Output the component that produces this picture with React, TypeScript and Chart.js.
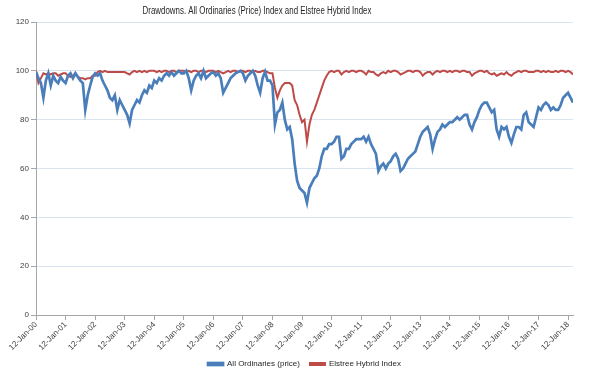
import React, { useEffect, useRef } from "react";
import { Chart, registerables } from "chart.js";

Chart.register(...registerables);

const TITLE = "Drawdowns. All Ordinaries (Price) Index and Elstree Hybrid Index";
const SERIES_NAMES = ["All Ordinaries (price)", "Elstree Hybrid Index"];
const START_YEAR = 2000;
const TICK_YEARS = [0, 1, 2, 3, 4, 5, 6, 7, 8, 9, 10, 11, 12, 13, 14, 15, 16, 17, 18];
const Y_TICKS = [0, 20, 40, 60, 80, 100, 120];

// Monthly (12th of each month) values, Jan 2000 .. Mar 2018
const allOrds = [
  99.5, 97, 95, 89, 96, 99, 94, 98, 96, 95, 97.5, 96,
  95, 98, 99, 97, 99, 97.5, 96, 95, 84, 90, 94, 97.5,
  99, 98, 99, 96, 94, 92, 89, 88, 90, 84, 88, 86,
  84, 82, 78.5, 84, 86, 88, 87, 90, 92, 91, 94, 93,
  96, 95, 97, 96, 98, 99, 98, 99.5, 98, 99, 100, 99,
  99, 100, 97, 92, 96, 98, 99, 97, 100, 97, 98, 99,
  99.5, 98, 99, 97, 91, 93, 95, 97, 98, 99, 99.5, 100,
  99, 96, 98, 99, 100, 98, 94, 91, 97, 99.6, 96, 96,
  94, 78, 83, 84, 87, 80, 76, 77, 72, 62, 55, 52,
  51, 50, 46, 52, 54, 56, 57, 60, 65, 68, 68, 70,
  70, 71, 73, 73, 64, 65, 68, 68, 70, 71, 72, 72,
  72, 73, 71, 73, 70, 68, 66, 59, 61, 62, 60, 62,
  63, 65, 66, 64, 59, 60, 62, 64, 65, 66, 67, 70,
  73, 75, 76, 77, 74, 68, 72, 75, 76, 78, 77, 78,
  79, 79, 80, 81, 80, 81, 82, 82, 78, 76, 79, 81,
  84, 86, 87, 87, 85, 83, 84, 76, 73, 77, 76, 77,
  73, 70.5, 74, 77, 77, 76, 82, 83, 79, 78, 77, 81,
  85, 84, 86, 87, 86, 84, 85, 84, 84, 86, 89, 90,
  91, 89, 87,
];

const elstree = [
  100, 95, 97, 99, 98.5, 99, 98.5, 99, 99, 98, 98.5, 99,
  99, 98, 97.5, 98, 99, 97.5, 97, 97, 96.5, 97, 97, 98,
  98, 99.5, 100, 99.5, 100, 99.5, 99.5, 99.5, 99.5, 99.5, 99.5, 99.5,
  99.5, 99, 98.5, 99.5, 100, 99.5, 100, 99.5, 100, 99.5, 100, 100,
  100, 99.5, 100, 99.5, 100, 100, 99.5, 100, 100, 99.5, 100, 100,
  100, 99.5, 100, 99.5, 100, 100, 99.5, 100, 100, 99.5, 100, 100,
  100, 99.5, 100, 99.5, 99, 99.5, 100, 99.5, 100, 100, 99.5, 100,
  100, 99.5, 100, 100, 99.5, 100, 99.5, 99.5, 100, 100, 99.5, 99,
  99, 93, 89, 92, 94, 95, 95, 95, 94, 88, 86, 82,
  79, 80, 71, 78, 82, 84, 87, 90, 93, 96, 98, 99.5,
  100, 99.5, 100, 100, 98.5, 99.5, 100, 99.5, 100, 100, 99.5, 100,
  100, 99.5, 98.5, 100, 99.5, 99.5, 98.5, 98, 99, 99.5, 99, 100,
  99.5, 100, 100, 99.5, 98.5, 99, 99.5, 100, 100, 99.5, 100, 100,
  99.5, 98, 99, 99.5, 99.5, 98.5, 99.5, 100, 99.5, 100, 100, 99.5,
  100, 99.5, 100, 100, 99.5, 100, 100, 99.5, 99.5, 98, 99, 99.5,
  100, 100, 99.5, 100, 99, 98.5, 99, 98, 98.5, 99, 98.5, 99.5,
  98.5, 98, 99, 99.5, 100, 99.5, 100, 100, 99.5, 99.5, 99.5, 100,
  100, 99.5, 100, 99.5, 100, 99.5, 99.5, 100, 99.5, 100, 100, 99.5,
  100, 99.5, 98.5,
];

const FONT = "'Liberation Sans', Arial, sans-serif";

function toPoints(values: number[]) {
  return values.map((v, i) => ({ x: i / 12, y: v }));
}

const titlePlugin = {
  id: "customTitle",
  afterDraw(chart: any) {
    const ctx = chart.ctx;
    ctx.save();
    ctx.font = `10px ${FONT}`;
    ctx.fillStyle = "#262626";
    ctx.textAlign = "center";
    ctx.textBaseline = "middle";
    ctx.translate(257, 11);
    ctx.scale(0.79, 1);
    ctx.fillText(TITLE, 0, 0);
    ctx.restore();
  },
};

export default function App() {
  const ref = useRef<HTMLCanvasElement>(null);
  useEffect(() => {
    if (!ref.current) return;
    const chart = new Chart(ref.current, {
      type: "line",
      data: {
        datasets: [
          {
            label: SERIES_NAMES[0],
            data: toPoints(allOrds),
            borderColor: "#4a7ebb",
            backgroundColor: "#4a7ebb",
            borderWidth: 2.7,
            pointRadius: 0,
            tension: 0,
          },
          {
            label: SERIES_NAMES[1],
            data: toPoints(elstree),
            borderColor: "#be4b48",
            backgroundColor: "#be4b48",
            borderWidth: 2,
            pointRadius: 0,
            tension: 0,
          },
        ],
      },
      options: {
        animation: false,
        responsive: false,
        maintainAspectRatio: false,
        layout: { padding: { top: 22, right: 29, left: 0, bottom: -3 } },
        plugins: {
          title: { display: false },
          tooltip: { enabled: false },
          legend: {
            position: "bottom",
            fullSize: false,
            labels: {
              boxWidth: 15,
              boxHeight: 2,
              padding: 10,
              color: "#262626",
              font: { family: FONT, size: 8 },
            },
          },
        },
        scales: {
          x: {
            type: "linear",
            min: 0,
            max: (allOrds.length - 1) / 12,
            afterBuildTicks(scale: any) {
              scale.ticks = TICK_YEARS.map((v) => ({ value: v }));
            },
            afterFit(scale: any) {
              scale.height = 35;
            },
            grid: {
              drawOnChartArea: false,
              drawTicks: true,
              tickLength: 5,
              tickColor: "#a6a6a6",
            },
            border: { color: "#a6a6a6", width: 1 },
            ticks: {
              minRotation: 45,
              maxRotation: 45,
              autoSkip: false,
              padding: 0,
              color: "#404040",
              font: { family: FONT, size: 8 },
              callback: (v: any) => {
                const yy = String((START_YEAR + Number(v)) % 100).padStart(2, "0");
                return `12-Jan-${yy}`;
              },
            },
          },
          y: {
            min: 0,
            max: 120,
            afterBuildTicks(scale: any) {
              scale.ticks = Y_TICKS.map((v) => ({ value: v }));
            },
            afterFit(scale: any) {
              scale.width = 36;
            },
            grid: {
              color: "#dae3f0",
              lineWidth: 1,
              drawTicks: true,
              tickLength: 5,
              tickColor: "#a6a6a6",
            },
            border: { color: "#a6a6a6", width: 1 },
            ticks: {
              padding: 2,
              color: "#404040",
              font: { family: FONT, size: 8 },
            },
          },
        },
      },
      plugins: [titlePlugin],
    } as any);
    return () => chart.destroy();
  }, []);
  return (
    <div style={{ position: "fixed", left: 0, top: 0, width: 602, height: 375, background: "#fff" }}>
      <canvas ref={ref} width={602} height={375} style={{ width: 602, height: 375 }} />
    </div>
  );
}
